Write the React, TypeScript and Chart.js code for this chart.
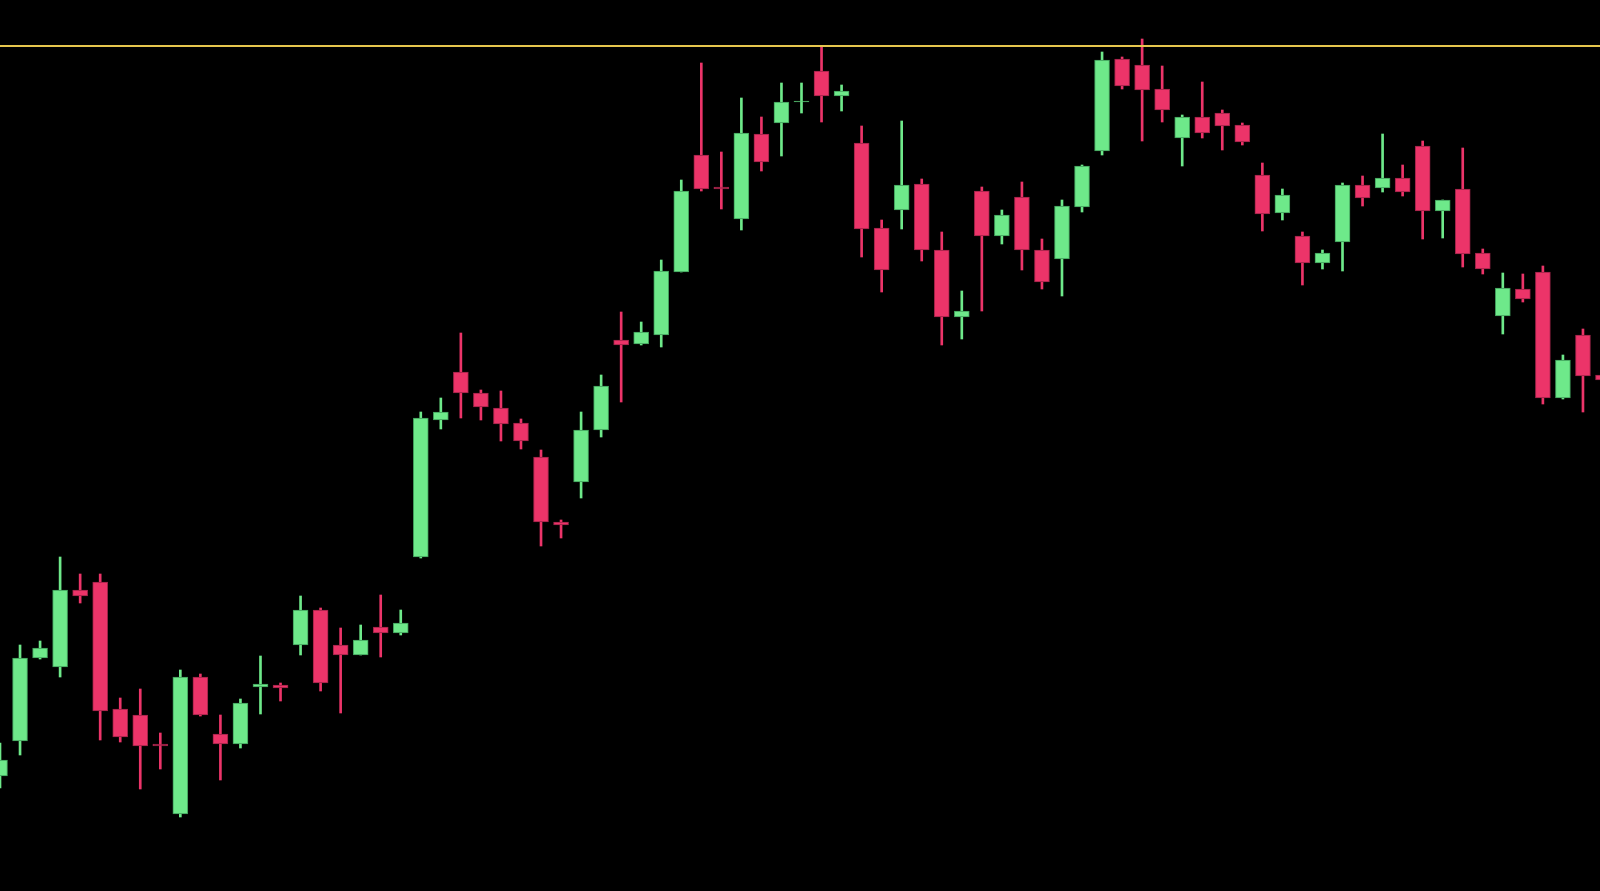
import React, { useEffect, useRef } from "react";
import { Chart, registerables } from "chart.js";

Chart.register(...registerables);

const opens = [
  211.5, 215.0, 223.3, 222.4, 230.1, 230.9, 218.2, 217.6, 214.7, 207.7,
  221.4, 215.7, 214.7, 220.4, 220.6, 224.6, 228.1, 224.6, 223.6, 226.4,
  225.8, 233.4, 247.1, 251.9, 249.8, 248.3, 246.8, 243.4, 236.9, 240.9,
  246.1, 255.1, 254.7, 255.6, 261.9, 273.6, 270.4, 267.2, 275.7, 276.8,
  278.9, 282.0, 279.5, 274.8, 266.3, 268.1, 270.7, 264.1, 257.4, 270.0,
  265.5, 269.4, 264.1, 263.2, 268.4, 274.0, 283.2, 282.6, 280.2, 275.3,
  277.4, 277.8, 276.6, 271.6, 267.8, 265.5, 262.8, 264.9, 270.6, 270.3,
  271.3, 274.5, 268.0, 270.2, 263.8, 257.5, 260.2, 261.9, 249.3, 255.6,
  251.6,
];
const highs = [
  214.8, 224.6, 225.0, 233.4, 231.7, 231.7, 219.3, 220.2, 215.8, 222.1,
  221.7, 217.6, 219.2, 223.5, 220.8, 229.5, 228.3, 226.3, 226.6, 229.6,
  228.1, 247.9, 249.3, 255.8, 250.1, 250.0, 247.2, 244.1, 237.1, 247.9,
  251.6, 257.9, 256.9, 263.1, 271.1, 282.8, 273.9, 279.3, 277.4, 280.8,
  280.8, 284.4, 280.6, 276.5, 267.1, 277.0, 271.2, 265.9, 260.0, 270.4,
  268.1, 270.9, 265.2, 269.1, 272.6, 283.9, 283.4, 285.2, 282.5, 277.6,
  280.9, 278.1, 276.8, 272.8, 270.2, 265.9, 264.1, 270.8, 271.5, 275.7,
  272.6, 275.0, 269.1, 274.3, 264.2, 261.8, 261.7, 262.5, 253.6, 256.2,
  251.6,
];
const lows = [
  210.3, 213.6, 223.2, 221.4, 228.8, 215.1, 214.9, 210.2, 212.2, 207.4,
  217.5, 211.1, 214.3, 217.7, 219.0, 223.6, 220.0, 217.8, 223.6, 223.4,
  225.6, 233.3, 246.2, 247.3, 247.1, 245.0, 244.2, 234.5, 235.3, 239.3,
  245.4, 248.9, 254.6, 254.4, 261.9, 270.0, 268.2, 266.1, 272.0, 273.5,
  277.8, 276.9, 278.0, 263.4, 259.9, 266.2, 263.0, 254.6, 255.2, 258.0,
  264.7, 262.1, 260.2, 259.5, 267.9, 273.6, 280.2, 275.0, 276.9, 272.5,
  275.3, 274.1, 274.6, 266.0, 267.1, 260.6, 262.2, 262.0, 268.5, 269.9,
  269.5, 265.2, 265.3, 262.4, 261.7, 255.7, 258.9, 248.7, 249.2, 247.9,
  251.1,
];
const closes = [
  213.1, 223.3, 224.3, 230.1, 229.5, 218.0, 215.4, 214.5, 214.5, 221.4,
  217.6, 214.7, 218.8, 220.7, 220.3, 228.1, 220.8, 223.6, 225.1, 225.8,
  226.8, 247.3, 247.9, 249.8, 248.4, 246.7, 245.0, 236.9, 236.6, 246.1,
  250.5, 254.6, 255.9, 262.0, 270.0, 270.2, 270.2, 275.8, 272.9, 278.9,
  279.0, 279.5, 280.0, 266.2, 262.1, 270.6, 264.1, 257.4, 258.0, 265.5,
  267.6, 264.1, 260.9, 268.5, 272.5, 283.1, 280.5, 280.1, 278.1, 277.4,
  275.8, 276.5, 274.9, 267.7, 269.6, 262.8, 263.8, 270.6, 269.3, 271.3,
  269.9, 268.0, 269.1, 263.7, 262.2, 260.3, 259.2, 249.3, 253.1, 251.5,
  251.1,
];
const resistanceLevel = 284.5;
const priceMin = 200;
const priceMax = 289.1;

const labels = Array.from(opens, (_, i) => `${i + 1}`);

const UP = "#6ee98a";
const UP_EDGE = "#3f9a58";
const DOWN = "#ec3469";
const DOWN_EDGE = "#9a2246";
const LEVEL = "#e6c64e";

export default function App() {
  const ref = useRef<HTMLCanvasElement | null>(null);

  useEffect(() => {
    document.body.style.margin = "0";
    document.body.style.background = "#000";
    document.body.style.overflow = "hidden";
    document.documentElement.style.overflow = "hidden";
    if (!ref.current) return;
    const isUp = opens.map((o, i) => closes[i] >= o);
    const chart = new Chart(ref.current, {
      type: "bar",
      data: {
        labels,
        datasets: [
          {
            type: "line",
            data: labels.map(() => resistanceLevel),
            borderColor: LEVEL,
            borderWidth: 2,
            pointRadius: 0,
            order: 0,
          } as any,
          {
            data: opens.map((o, i) => [o, closes[i]]),
            backgroundColor: isUp.map((u) => (u ? UP : DOWN)),
            borderColor: isUp.map((u) => (u ? UP_EDGE : DOWN_EDGE)),
            borderWidth: 1,
            borderSkipped: false,
            barThickness: 15,
            grouped: false,
            order: 1,
          },
          {
            data: lows.map((l, i) => [l, highs[i]]),
            backgroundColor: isUp.map((u) => (u ? UP : DOWN)),
            borderWidth: 0,
            barThickness: 2,
            grouped: false,
            order: 2,
          },
        ],
      },
      options: {
        animation: false,
        responsive: true,
        maintainAspectRatio: false,
        layout: { padding: 0 },
        plugins: { legend: { display: false }, tooltip: { enabled: false } },
        scales: {
          x: { display: false, offset: false, grid: { offset: false } },
          y: { display: false, min: priceMin, max: priceMax },
        },
      },
    });
    return () => chart.destroy();
  }, []);

  return (
    <div style={{ width: 1600, height: 891, overflow: "hidden", background: "#000" }}>
      <div style={{ width: 1603, height: 891, position: "relative" }}>
        <canvas ref={ref} />
      </div>
    </div>
  );
}
